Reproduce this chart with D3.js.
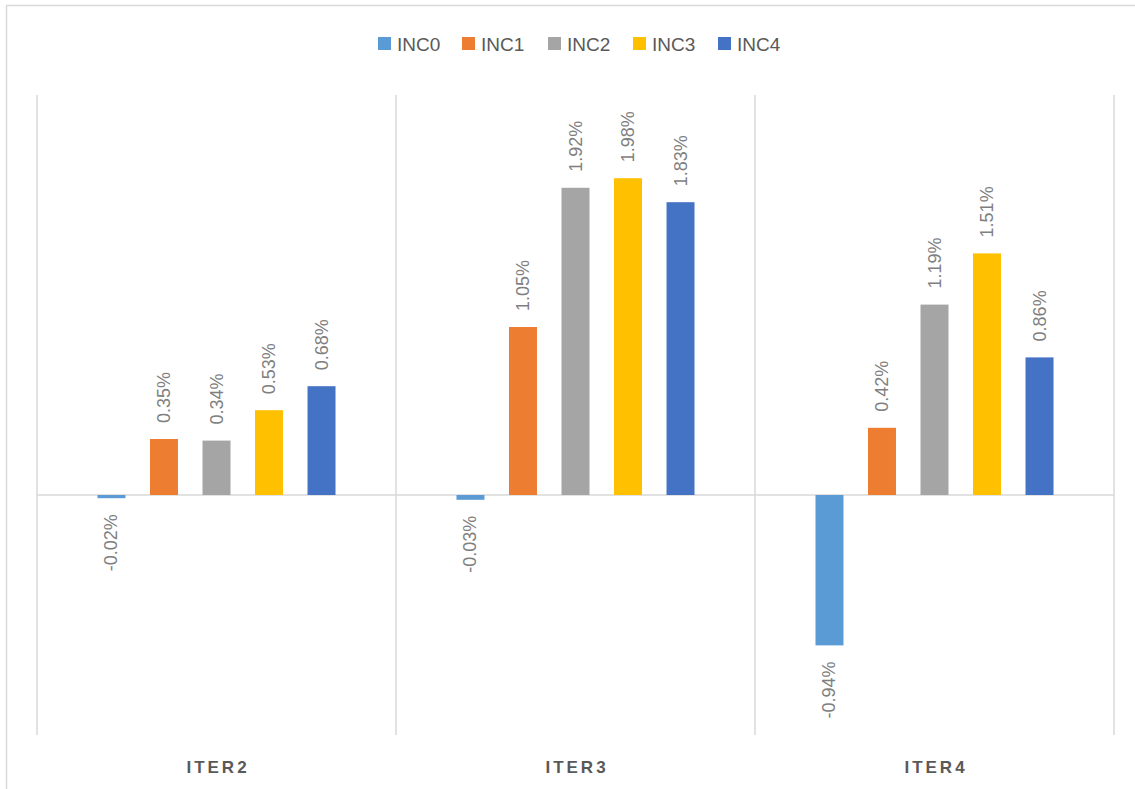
<!DOCTYPE html>
<html>
<head>
<meta charset="utf-8">
<script src="https://cdn.jsdelivr.net/npm/d3@7"></script>
<style>
  html, body { margin: 0; padding: 0; background: #fff; }
  svg { display: block; }
</style>
</head>
<body>
<svg id="chart" width="1135" height="789"></svg>
<script>
// Percentage change per iteration and increment
const categories = ["ITER2", "ITER3", "ITER4"];
const series = ["INC0", "INC1", "INC2", "INC3", "INC4"];
const INC0 = [-0.02, -0.03, -0.94];
const INC1 = [0.35, 1.05, 0.42];
const INC2 = [0.34, 1.92, 1.19];
const INC3 = [0.53, 1.98, 1.51];
const INC4 = [0.68, 1.83, 0.86];
const seriesValues = [INC0, INC1, INC2, INC3, INC4];
const colors = ["#5B9BD5", "#ED7D31", "#A5A5A5", "#FFC000", "#4472C4"];
const yDomain = [-1.5, 2.5];

const svg = d3.select("#chart");
const font = "'Liberation Sans', Arial, sans-serif";

// outer chart frame
svg.append("rect")
  .attr("x", 6.5).attr("y", 5.5)
  .attr("width", 1200).attr("height", 900)
  .attr("fill", "none").attr("stroke", "#d9d9d9").attr("stroke-width", 1.5);

const plot = { left: 37, right: 1114, top: 95, bottom: 735 };

const x = d3.scaleBand().domain(categories).range([plot.left, plot.right]).padding(0);
const xi = d3.scaleBand().domain(series).range([0, x.bandwidth()])
  .paddingInner(0.467).paddingOuter(1.152);
const y = d3.scaleLinear().domain(yDomain).range([plot.bottom, plot.top]);

// category separators
const bounds = categories.map(c => x(c)).concat([plot.right]);
svg.append("g").selectAll("line").data(bounds).join("line")
  .attr("x1", d => d).attr("x2", d => d)
  .attr("y1", y(yDomain[1])).attr("y2", y(yDomain[0]))
  .attr("stroke", "#d9d9d9").attr("stroke-width", 1.5);

// zero line
svg.append("line")
  .attr("x1", plot.left).attr("x2", plot.right)
  .attr("y1", y(0)).attr("y2", y(0))
  .attr("stroke", "#d9d9d9").attr("stroke-width", 1.5);

// bars and labels
const rows = [];
categories.forEach((c, ci) => {
  series.forEach((s, si) => rows.push({ c, s, si, v: seriesValues[si][ci] }));
});

const g = svg.append("g");
g.selectAll("rect.bar").data(rows).join("rect")
  .attr("class", "bar")
  .attr("x", d => x(d.c) + xi(d.s))
  .attr("width", xi.bandwidth())
  .attr("y", d => y(Math.max(0, d.v)))
  .attr("height", d => Math.abs(y(d.v) - y(0)))
  .attr("fill", d => colors[d.si]);

g.selectAll("text.lbl").data(rows).join("text")
  .attr("class", "lbl")
  .attr("transform", d => {
    const cx = x(d.c) + xi(d.s) + xi.bandwidth() / 2;
    const cy = d.v >= 0 ? y(d.v) - 16 : y(d.v) + 16;
    return `translate(${cx},${cy}) rotate(-90)`;
  })
  .attr("text-anchor", d => d.v >= 0 ? "start" : "end")
  .attr("dominant-baseline", "central")
  .attr("font-family", font)
  .attr("font-size", 18)
  .attr("fill", "#7f7f7f")
  .text(d => d.v.toFixed(2) + "%");

// category labels
svg.append("g").selectAll("text").data(categories).join("text")
  .attr("x", d => x(d) + x.bandwidth() / 2 + 1.5)
  .attr("y", 773)
  .attr("text-anchor", "middle")
  .attr("font-family", font)
  .attr("font-size", 17)
  .attr("font-weight", "bold")
  .attr("letter-spacing", "3px")
  .attr("fill", "#595959")
  .text(d => d);

// legend
const legendX = [378, 462, 548, 633, 718];
const lg = svg.append("g").selectAll("g").data(series).join("g")
  .attr("transform", (d, i) => `translate(${legendX[i]},37)`);
lg.append("rect").attr("width", 13).attr("height", 13)
  .attr("fill", (d, i) => colors[i]);
lg.append("text")
  .attr("x", 19).attr("y", 13.5)
  .attr("font-family", font)
  .attr("font-size", 19)
  .attr("fill", "#595959")
  .text(d => d);
</script>
</body>
</html>
